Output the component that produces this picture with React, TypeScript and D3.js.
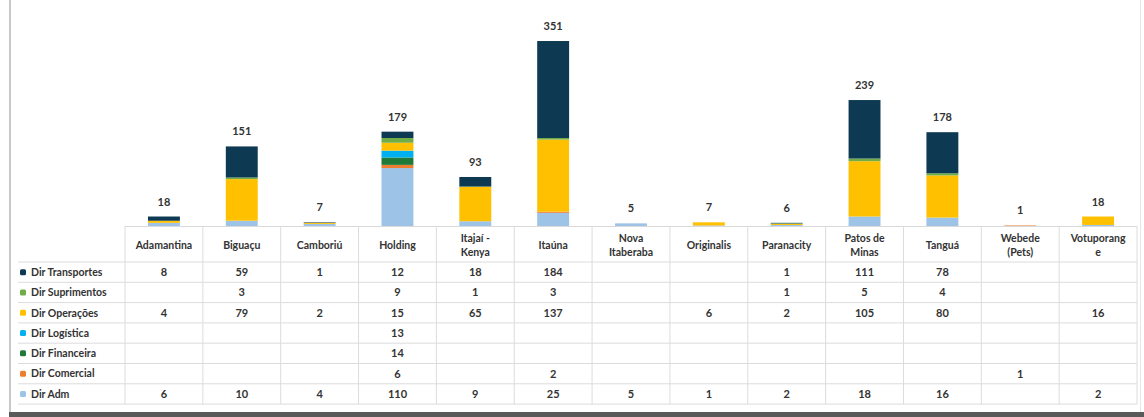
import React from "react";
import * as d3 from "d3";

const categories = [
  "Adamantina", "Biguaçu", "Camboriú", "Holding", "Itajaí - Kenya", "Itaúna",
  "Nova Itaberaba", "Originalis", "Paranacity", "Patos de Minas", "Tanguá",
  "Webede (Pets)", "Votuporanga",
];
const categoryLines = [
  ["Adamantina"], ["Biguaçu"], ["Camboriú"], ["Holding"], ["Itajaí -", "Kenya"], ["Itaúna"],
  ["Nova", "Itaberaba"], ["Originalis"], ["Paranacity"], ["Patos de", "Minas"], ["Tanguá"],
  ["Webede", "(Pets)"], ["Votuporang", "e"],
];

const seriesNames = [
  "Dir Transportes", "Dir Suprimentos", "Dir Operações", "Dir Logística",
  "Dir Financeira", "Dir Comercial", "Dir Adm",
];
const seriesColors = ["#0d3a52", "#70ad47", "#ffc000", "#00b0f0", "#1f7a3a", "#ed7d31", "#9dc3e6"];

const transportes = [8, 59, 1, 12, 18, 184, null, null, 1, 111, 78, null, null];
const suprimentos = [null, 3, null, 9, 1, 3, null, null, 1, 5, 4, null, null];
const operacoes = [4, 79, 2, 15, 65, 137, null, 6, 2, 105, 80, null, 16];
const logistica = [null, null, null, 13, null, null, null, null, null, null, null, null, null];
const financeira = [null, null, null, 14, null, null, null, null, null, null, null, null, null];
const comercial = [null, null, null, 6, null, 2, null, null, null, null, null, 1, null];
const adm = [6, 10, 4, 110, 9, 25, 5, 1, 2, 18, 16, null, 2];

const seriesValues: (number | null)[][] = [transportes, suprimentos, operacoes, logistica, financeira, comercial, adm];

const W = 1144;
const H = 417;
const plotLeft = 125;
const plotRight = 1137;
const baseY = 226;
const tableTop = 228;
const headerBottom = 262;
const rowH = 20.3;
const font = "Lato, 'Open Sans', sans-serif";
const textColor = "#333";

export default function App() {
  const x = d3.scaleBand<string>().domain(categories).range([plotLeft, plotRight]).paddingInner(0.59).paddingOuter(0.295);
  const band = d3.scaleBand<string>().domain(categories).range([plotLeft, plotRight]);
  const y = d3.scaleLinear().domain([0, 400]).range([baseY, baseY - 400 * 0.527]);

  const order = [6, 5, 4, 3, 2, 1, 0];
  const rows = categories.map((c, i) => {
    const o: any = { cat: c };
    seriesNames.forEach((s, k) => (o[s] = seriesValues[k][i] ?? 0));
    return o;
  });
  const stack = d3.stack<any>().keys(order.map((k) => seriesNames[k]));
  const stacked = stack(rows);
  const totals = categories.map((_, i) => d3.sum(seriesValues, (s) => s[i] ?? 0));

  const rowLines = d3.range(seriesNames.length + 1).map((r) => headerBottom + r * rowH);
  const tableBottom = rowLines[rowLines.length - 1];

  return (
    <svg width={W} height={H} style={{ position: "absolute", left: 0, top: 0, background: "#fff" }}>
      <rect x={0} y={0} width={W} height={H} fill="#fff" />
      <rect x={9} y={0} width={2} height={414} fill="#c8c8c8" />
      <rect x={9} y={412} width={1135} height={5} fill="#5a5a5a" />
      <rect x={1140} y={0} width={1} height={412} fill="#e6e6e6" />

      {stacked.map((layer) => {
        const k = seriesNames.indexOf(layer.key);
        return (
          <g key={layer.key} fill={seriesColors[k]}>
            {layer.map((d, i) =>
              d[1] - d[0] > 0 ? (
                <rect key={i} x={x(categories[i])} width={x.bandwidth()} y={y(d[1])} height={y(d[0]) - y(d[1])} />
              ) : null
            )}
          </g>
        );
      })}

      {categories.map((c, i) => (
        <text key={c} x={(x(c) as number) + x.bandwidth() / 2} y={y(totals[i]) - 11} textAnchor="middle"
          fontFamily={font} fontSize={11} fontWeight={700} fill={textColor}>
          {totals[i]}
        </text>
      ))}

      <line x1={plotLeft} x2={plotRight} y1={baseY + 0.5} y2={baseY + 0.5} stroke="#d9d9d9" />
      {band.domain().map((c) => (
        <line key={c} x1={band(c)} x2={band(c)} y1={baseY} y2={tableBottom} stroke="#dcdcdc" strokeWidth={1} />
      ))}
      <line x1={plotRight} x2={plotRight} y1={baseY} y2={tableBottom} stroke="#dcdcdc" />
      {rowLines.map((ly, r) => (
        <line key={r} x1={18} x2={plotRight} y1={ly} y2={ly} stroke="#dcdcdc" />
      ))}

      {categories.map((c, i) => {
        const cx = (band(c) as number) + band.bandwidth() / 2;
        const lines = categoryLines[i];
        const mid = (tableTop + headerBottom) / 2;
        return (
          <text key={c} x={cx} textAnchor="middle" fontFamily={font} fontSize={10.5} fontWeight={700} fill={textColor}>
            {lines.map((l, j) => (
              <tspan key={j} x={cx} y={mid + 4 + (j - (lines.length - 1) / 2) * 14}>{l}</tspan>
            ))}
          </text>
        );
      })}

      {seriesNames.map((s, k) => {
        const cy = headerBottom + k * rowH + rowH / 2;
        return (
          <g key={s}>
            <rect x={20} y={cy - 3} width={6} height={6} rx={1.5} fill={seriesColors[k]} />
            <text x={31} y={cy + 3.8} fontFamily={font} fontSize={10.5} fontWeight={700} fill={textColor}>{s}</text>
            {categories.map((c, i) => {
              const v = seriesValues[k][i];
              if (v == null) return null;
              return (
                <text key={c} x={(band(c) as number) + band.bandwidth() / 2} y={cy + 4} textAnchor="middle"
                  fontFamily={font} fontSize={11} fontWeight={700} fill={textColor}>{v}</text>
              );
            })}
          </g>
        );
      })}
    </svg>
  );
}
